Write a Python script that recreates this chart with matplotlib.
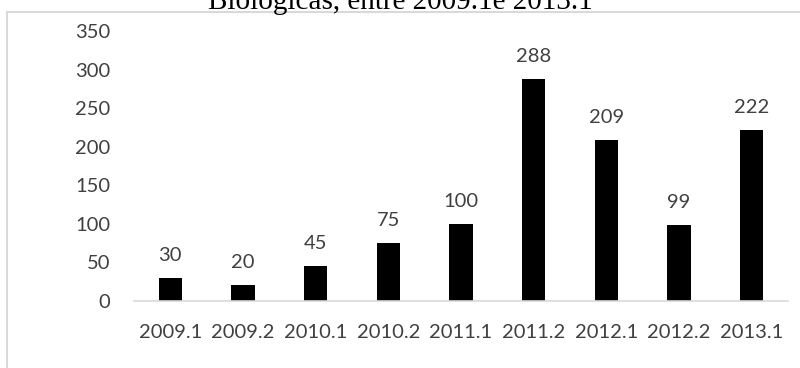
import matplotlib
matplotlib.use("Agg")
import matplotlib.pyplot as plt
from matplotlib.patches import Rectangle

# dados do gráfico
semestres = ["2009.1", "2009.2", "2010.1", "2010.2", "2011.1",
             "2011.2", "2012.1", "2012.2", "2013.1"]
valores = [30, 20, 45, 75, 100, 288, 209, 99, 222]
y_ticks = [0, 50, 100, 150, 200, 250, 300, 350]
titulo = "Biológicas, entre 2009.1e 2013.1"

plt.rcParams["font.family"] = ["Lato", "DejaVu Sans"]
tam = 14.5

fig = plt.figure(figsize=(8, 3.68), dpi=100)
ax = fig.add_axes([134 / 800, 1 - 300.7 / 368, (788 - 134) / 800, (300.7 - 31.5) / 368])

x = list(range(len(semestres)))
bars = ax.bar(x, valores, width=0.32, color="black")

ax.set_xlim(-0.5, len(semestres) - 0.5)
ax.set_ylim(0, 350)
ax.set_yticks(y_ticks)
ax.set_xticks(x)
ax.set_xticklabels(semestres)

for b, v in zip(bars, valores):
    ax.annotate(str(v), (b.get_x() + b.get_width() / 2, v),
                xytext=(0, 10), textcoords="offset points",
                ha="center", va="bottom", fontsize=tam, color="#404040")

for s in ["top", "right", "left"]:
    ax.spines[s].set_visible(False)
ax.spines["bottom"].set_color("#d9d9d9")
ax.spines["bottom"].set_linewidth(1.2)
ax.tick_params(axis="both", length=0, labelsize=tam, colors="#404040")
ax.tick_params(axis="y", pad=17)
ax.tick_params(axis="x", pad=17)

# moldura do gráfico
frame = Rectangle((7 / 800, -0.2), 1.2, (368 - 12) / 368 + 0.2,
                  transform=fig.transFigure, fill=False,
                  edgecolor="#d9d9d9", linewidth=1.5)
fig.patches.append(frame)

fig.text(0.5, 1 - 9 / 368, titulo, ha="center", va="baseline",
         family="Liberation Serif", fontsize=21, color="black")

fig.savefig("out.png", dpi=100)
